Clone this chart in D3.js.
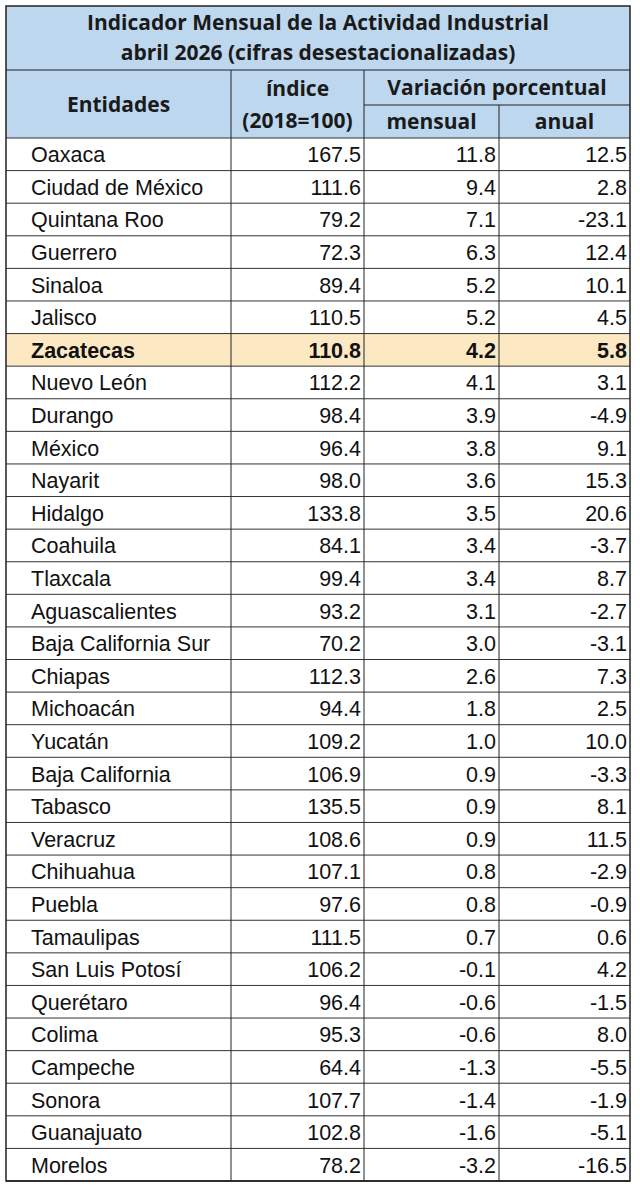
<!DOCTYPE html><html><head><meta charset="utf-8"><script src="https://cdn.jsdelivr.net/npm/d3@7"></script>
<style>body{margin:0;background:#fff}</style></head><body><svg id="c" width="640" height="1186"></svg><script>
const entidades=["Oaxaca","Ciudad de México","Quintana Roo","Guerrero","Sinaloa","Jalisco","Zacatecas","Nuevo León","Durango","México","Nayarit","Hidalgo","Coahuila","Tlaxcala","Aguascalientes","Baja California Sur","Chiapas","Michoacán","Yucatán","Baja California","Tabasco","Veracruz","Chihuahua","Puebla","Tamaulipas","San Luis Potosí","Querétaro","Colima","Campeche","Sonora","Guanajuato","Morelos"];
const indice=[167.5,111.6,79.2,72.3,89.4,110.5,110.8,112.2,98.4,96.4,98.0,133.8,84.1,99.4,93.2,70.2,112.3,94.4,109.2,106.9,135.5,108.6,107.1,97.6,111.5,106.2,96.4,95.3,64.4,107.7,102.8,78.2];
const mensual=[11.8,9.4,7.1,6.3,5.2,5.2,4.2,4.1,3.9,3.8,3.6,3.5,3.4,3.4,3.1,3.0,2.6,1.8,1.0,0.9,0.9,0.9,0.8,0.8,0.7,-0.1,-0.6,-0.6,-1.3,-1.4,-1.6,-3.2];
const anual=[12.5,2.8,-23.1,12.4,10.1,4.5,5.8,3.1,-4.9,9.1,15.3,20.6,-3.7,8.7,-2.7,-3.1,7.3,2.5,10.0,-3.3,8.1,11.5,-2.9,-0.9,0.6,4.2,-1.5,8.0,-5.5,-1.9,-5.1,-16.5];
const highlight="Zacatecas";
const svg=d3.select("#c");
const cols=[6,231,364,499,630];
const y=d3.scaleBand().domain(entidades).range([138,1181]);
const hf="'Open Sans',sans-serif", bf="'Liberation Sans',Arial,sans-serif";
const blue="#BDD7EE";
svg.append("rect").attr("x",cols[0]).attr("y",6).attr("width",cols[4]-cols[0]).attr("height",132).attr("fill",blue);
const g=svg.append("g");
const rows=g.selectAll("g.r").data(entidades.map((e,i)=>({e,i}))).join("g");
rows.filter(d=>d.e===highlight).append("rect").attr("x",cols[0]).attr("y",d=>y(d.e)).attr("width",cols[4]-cols[0]).attr("height",y.bandwidth()).attr("fill","#FCE9C4");
rows.each(function(d){
  const s=d3.select(this),cy=y(d.e)+y.bandwidth()/2+8,b=d.e===highlight;
  const t=(x,a,txt)=>s.append("text").attr("x",x).attr("y",cy).attr("text-anchor",a).attr("font-family",bf).attr("font-size",21.5).attr("font-weight",b?"bold":"normal").attr("fill","#111").text(txt);
  t(cols[0]+25,"start",d.e);
  t(cols[2]-3,"end",indice[d.i].toFixed(1));
  t(cols[3]-3,"end",mensual[d.i].toFixed(1));
  t(cols[4]-3,"end",anual[d.i].toFixed(1));
});
const L=(x1,y1,x2,y2,w=1,c="#222")=>svg.append("line").attr("x1",x1).attr("y1",y1).attr("x2",x2).attr("y2",y2).attr("stroke",c).attr("stroke-width",w);
entidades.forEach(e=>L(cols[0],y(e),cols[4],y(e),1,"#333"));
L(cols[0],1181,cols[4],1181,1.5);
L(cols[0],70,cols[4],70);
L(cols[2],105,cols[4],105);
[cols[1],cols[2]].forEach(x=>L(x,70,x,1181));
L(cols[3],105,cols[3],1181);
svg.append("rect").attr("x",cols[0]).attr("y",6).attr("width",cols[4]-cols[0]).attr("height",1175).attr("fill","none").attr("stroke","#222").attr("stroke-width",1.5);
const H=(x,yy,txt,a="middle")=>svg.append("text").attr("x",x).attr("y",yy).attr("text-anchor",a).attr("font-family",hf).attr("font-weight","bold").attr("font-size",21).attr("fill","#1a1a1a").text(txt);
H((cols[0]+cols[4])/2,30,"Indicador Mensual de la Actividad Industrial");
H((cols[0]+cols[4])/2,60,"abril 2026 (cifras desestacionalizadas)");
H((cols[0]+cols[1])/2,112,"Entidades");
H((cols[1]+cols[2])/2,96,"índice");
H((cols[1]+cols[2])/2,128,"(2018=100)");
H((cols[2]+cols[4])/2,95,"Variación porcentual");
H((cols[2]+cols[3])/2,129,"mensual");
H((cols[3]+cols[4])/2,129,"anual");
</script></body></html>
